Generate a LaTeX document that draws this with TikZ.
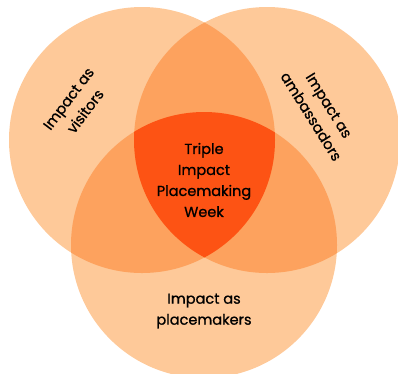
\documentclass[tikz,border=0pt]{standalone}
\usepackage{fontspec}
\setmainfont{Poppins}[FakeBold=0.9]
\definecolor{peach}{HTML}{FEC999}
\definecolor{apricot}{HTML}{FDA25E}
\definecolor{flame}{HTML}{FD5314}

\begin{document}
\begin{tikzpicture}[x=1pt,y=-1pt,
    venntext/.style={font=\fontsize{14.5}{21}\selectfont, align=center, text=black}]
  \useasboundingbox (0,0) rectangle (398,373);
  \coordinate (vis) at (142,140);
  \coordinate (amb) at (267,140);
  \coordinate (plc) at (204,245);
  \def\rad{133pt}

  % the three circles
  \foreach \c in {vis,amb,plc}
    \fill[peach] (\c) circle (\rad);

  % overlaps of two
  \begin{scope}
    \clip (vis) circle (\rad);
    \fill[apricot] (amb) circle (\rad);
    \fill[apricot] (plc) circle (\rad);
  \end{scope}
  \begin{scope}
    \clip (amb) circle (\rad);
    \fill[apricot] (plc) circle (\rad);
  \end{scope}

  % overlap of all three
  \begin{scope}
    \clip (vis) circle (\rad);
    \clip (amb) circle (\rad);
    \fill[flame] (plc) circle (\rad);
  \end{scope}

  \node[venntext]             (week)     at (204,180) {Triple\\Impact\\Placemaking\\Week};
  \node[venntext, rotate=53]  (visitors) at (77,105)  {Impact as\\visitors};
  \node[venntext, rotate=-58] (ambass)   at (320,111) {Impact as\\ambassadors};
  \node[venntext]             (makers)   at (204,311) {Impact as\\placemakers};
\end{tikzpicture}
\end{document}
